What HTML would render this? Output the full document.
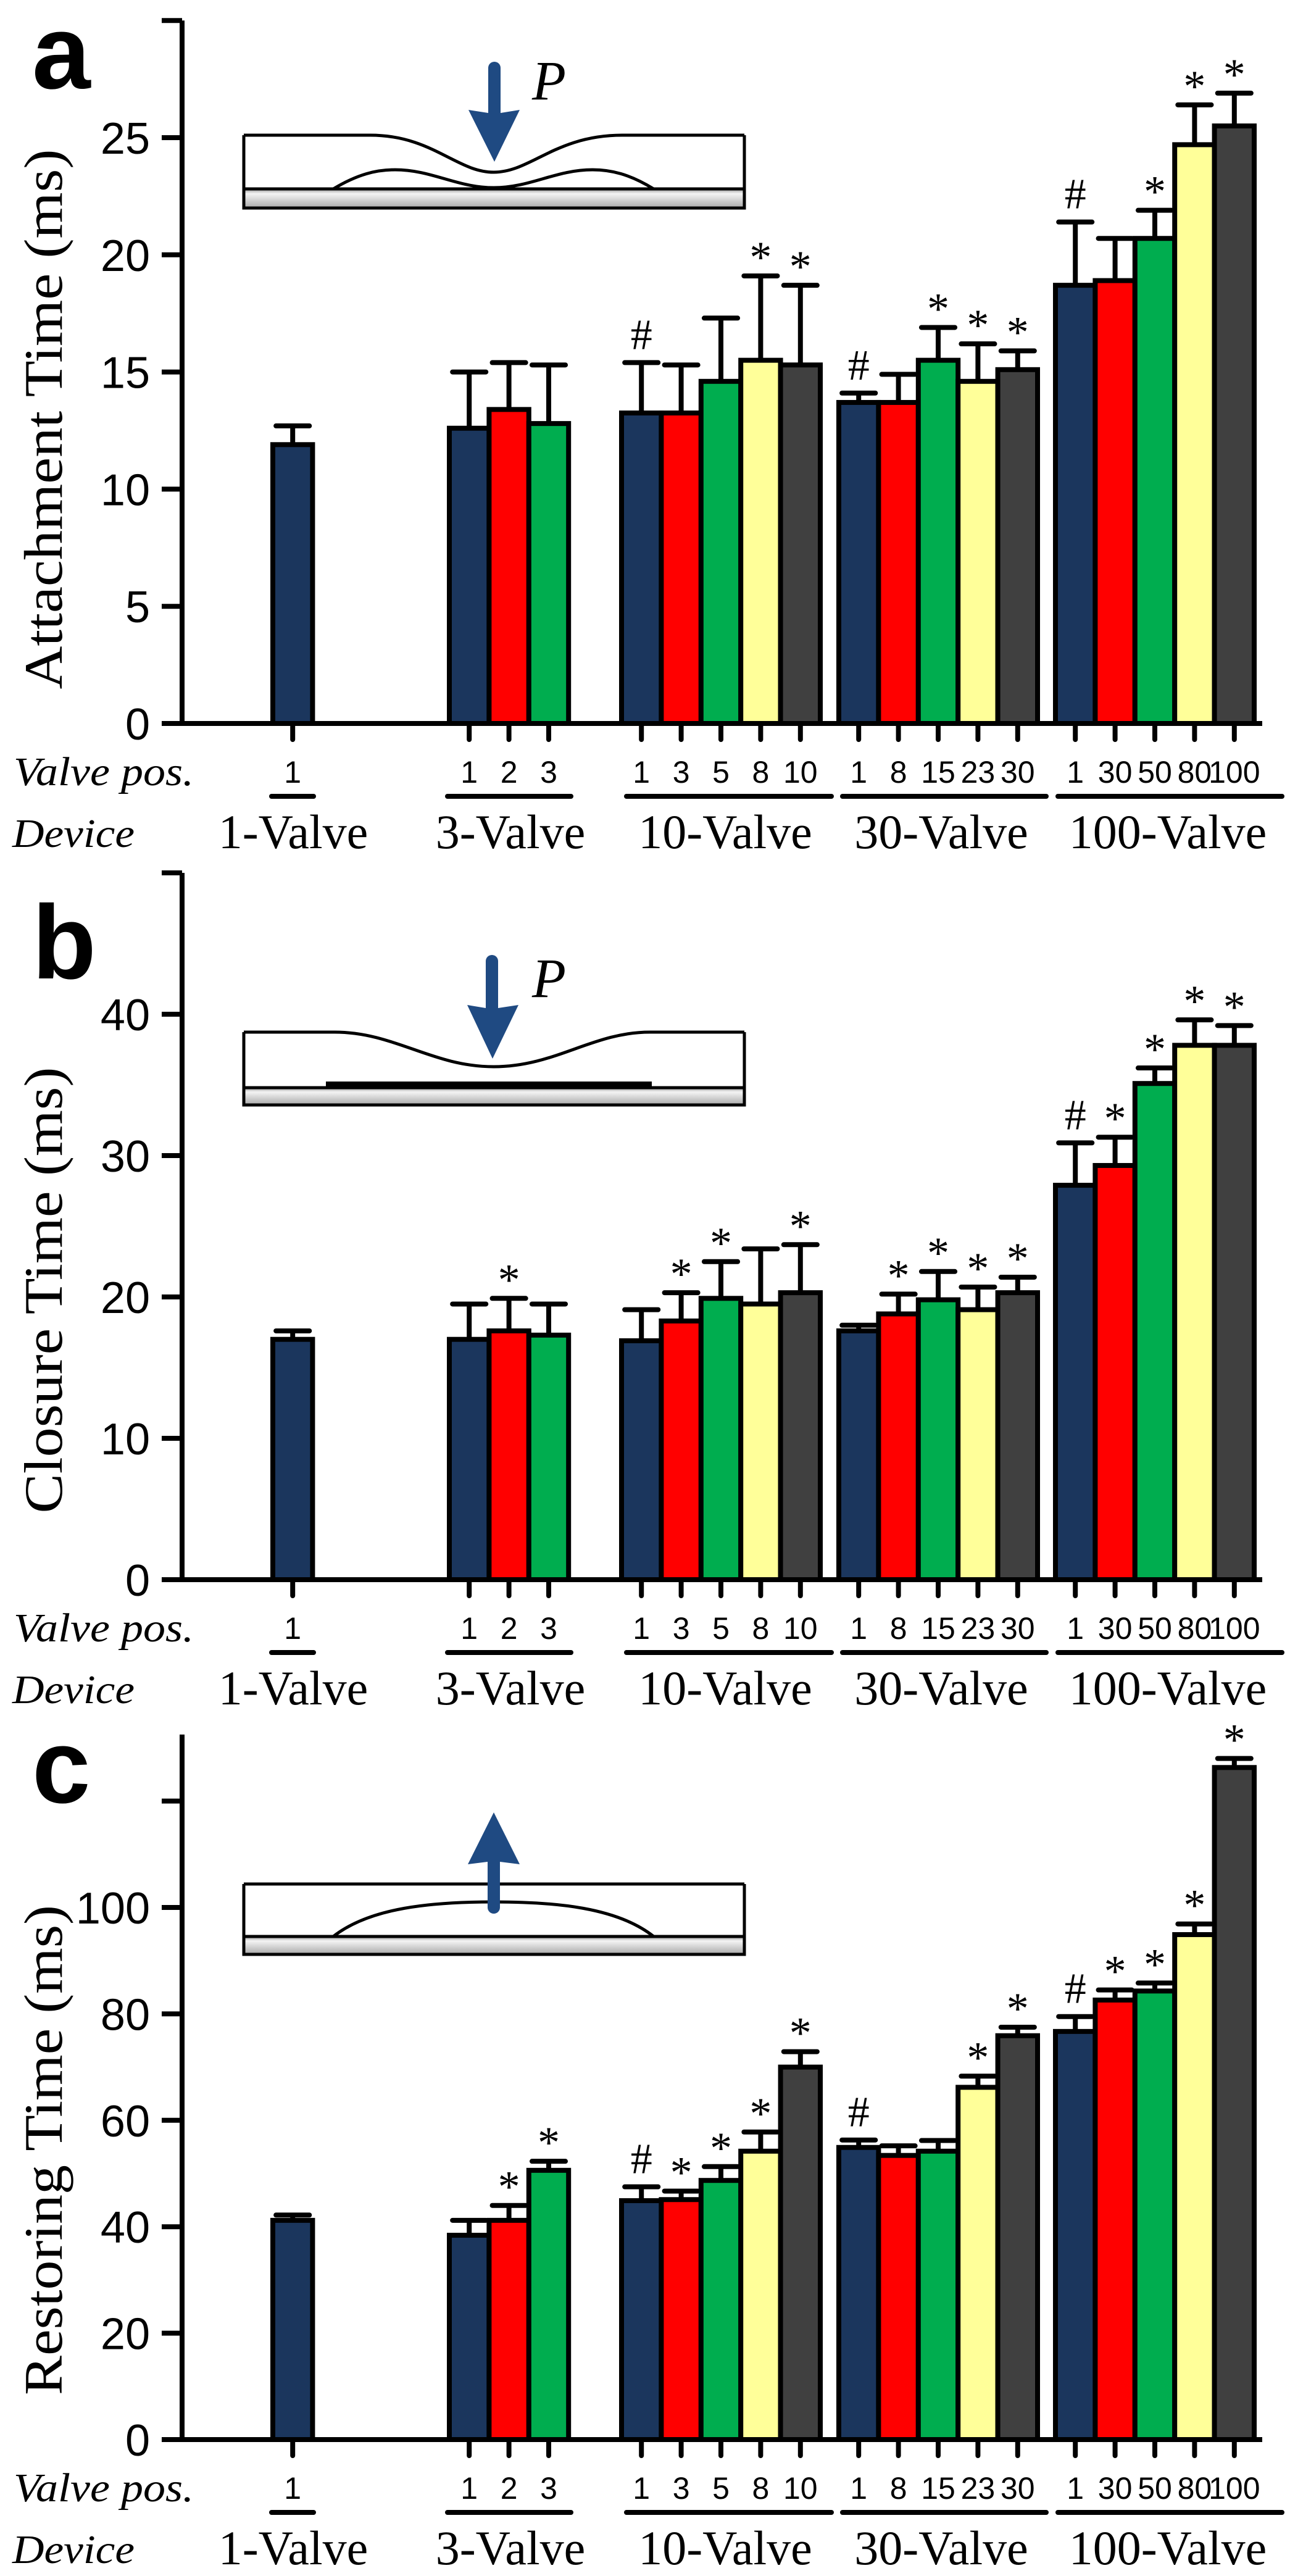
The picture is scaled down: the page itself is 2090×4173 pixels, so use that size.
<!DOCTYPE html>
<html><head><meta charset="utf-8"><style>
html,body{margin:0;padding:0;background:#fff;}
svg{display:block;}
</style></head>
<body>
<svg id="fig" xmlns="http://www.w3.org/2000/svg" width="2090" height="4173" viewBox="0 0 2090 4173">
<defs>
<linearGradient id="glass" x1="0" y1="0" x2="0" y2="1">
<stop offset="0" stop-color="#9a9a9a"/><stop offset="0.25" stop-color="#f4f4f4"/><stop offset="1" stop-color="#a8a8a8"/>
</linearGradient>
</defs>
<rect x="0" y="0" width="2090" height="4173" fill="#fff"/>
<g id="root"></g>
</svg>
<script>
// ---- data ----
const groups = ['1-Valve','3-Valve','10-Valve','30-Valve','100-Valve'];
const positions = [['1'],['1','2','3'],['1','3','5','8','10'],['1','8','15','23','30'],['1','30','50','80','100']];

const attachMean = [[11.9],[12.6,13.4,12.8],[13.25,13.25,14.6,15.5,15.3],[13.7,13.7,15.5,14.6,15.1],[18.7,18.9,20.7,24.7,25.5]];
const attachErr  = [[12.7],[15.0,15.4,15.3],[15.4,15.3,17.3,19.1,18.7],[14.1,14.9,16.9,16.2,15.9],[21.4,20.7,21.9,26.4,26.9]];
const attachMarks = [[''],['','',''],['#','','','*','*'],['#','','*','*','*'],['#','','*','*','*']];

const closureMean = [[17.0],[17.0,17.6,17.3],[16.9,18.3,19.9,19.5,20.3],[17.6,18.8,19.8,19.1,20.3],[27.9,29.3,35.1,37.8,37.8]];
const closureErr  = [[17.6],[19.5,19.9,19.5],[19.1,20.3,22.5,23.4,23.7],[18.0,20.2,21.8,20.7,21.4],[30.9,31.3,36.2,39.6,39.2]];
const closureMarks = [[''],['','*',''],['','*','*','','*'],['','*','*','*','*'],['#','*','*','*','*']];

const restoreMean = [[41.2],[38.4,41.2,50.6],[44.9,45.1,48.7,54.2,70.0],[54.9,53.4,54.2,66.2,75.9],[76.7,82.6,84.3,94.9,126.3]];
const restoreErr  = [[42.2],[41.2,44.0,52.3],[47.5,46.7,51.3,57.8,72.9],[56.3,55.2,56.2,68.3,77.5],[79.5,84.5,85.8,96.9,128.0]];
const restoreMarks = [[''],['','*','*'],['#','*','*','*','*'],['#','','','*','*'],['#','*','*','*','*']];

const ticksA = [0,5,10,15,20,25,30];
const tickLabelsA = ['0','5','10','15','20','25',''];
const ticksB = [0,10,20,30,40,50];
const tickLabelsB = ['0','10','20','30','40',''];
const ticksC = [0,20,40,60,80,100,120];
const tickLabelsC = ['0','20','40','60','80','100',''];

const colors = ['#1b365d','#ff0000','#00ad4f','#ffff99','#404040'];
const NS = 'http://www.w3.org/2000/svg';
const root = document.getElementById('root');

function mk(tag, attrs, parent, text){
  const e = document.createElementNS(NS, tag);
  for (const k in attrs) e.setAttribute(k, attrs[k]);
  if (text !== undefined) e.textContent = text;
  (parent||root).appendChild(e);
  return e;
}

// layout (pixels)
const groupStart = [442, 728, 1007, 1359, 1710];
const pitch = 64.4;
const ulines = [[440,508],[725,925],[1015,1347],[1365,1695],[1714,2077]];
const deviceCx = [475, 827, 1175, 1525, 1892];
const axisX = 295, axisLeft = 262, axisRight = 2045;

function barX(g, i){ return groupStart[g] + i*pitch; }

function panel(cfg){
  const g = mk('g', {});
  
  
  const yS = v => cfg.y0 - v*cfg.ppu;

  for (let gi=0; gi<groups.length; gi++){
    for (let i=0; i<cfg.mean[gi].length; i++){
      const x = barX(gi,i);
      const yt = yS(cfg.mean[gi][i]);
      const ye = yS(cfg.err[gi][i]);
      const cx = x + pitch/2;
      const el = mk('line', {x1:cx, x2:cx, y1:yt, y2:ye, stroke:'#000','stroke-width':8}, g);
      
      
      const cap = mk('line', {x1:cx-pitch*0.42, x2:cx+pitch*0.42, y1:ye, y2:ye, stroke:'#000','stroke-width':8,'stroke-linecap':'round'}, g);
      
      
      const r = mk('rect', {x:x, y:yt, width:pitch, height:cfg.y0-yt, fill:colors[i], stroke:'#000','stroke-width':8}, g);
      
      
      const m = cfg.marks[gi][i];
      if (m === '*'){
        const t = mk('text', {x:cx, y:ye-6, 'text-anchor':'middle', 'font-family':'"Liberation Serif", serif', 'font-size':72}, g, '*');
        
        
      } else if (m === '#'){
        const t = mk('text', {x:cx, y:ye-22, 'text-anchor':'middle', 'font-family':'"Liberation Serif", serif', 'font-size':70}, g, '#');
        
        
      }
      const tk = mk('line', {x1:cx, x2:cx, y1:cfg.y0, y2:cfg.y0+26, stroke:'#000','stroke-width':8,'stroke-linecap':'round'}, g);
      
      
      const pl = mk('text', {x:cx, y:cfg.y0+96, 'text-anchor':'middle', 'font-family':'"Liberation Sans", sans-serif', 'font-size':50}, g, positions[gi][i]);
      
      
    }
    const ul = mk('line', {x1:ulines[gi][0], x2:ulines[gi][1], y1:cfg.y0+118, y2:cfg.y0+118, stroke:'#000','stroke-width':8,'stroke-linecap':'round'}, g);
    
    
    const dl = mk('text', {x:deviceCx[gi], y:cfg.y0+202, 'text-anchor':'middle', 'font-family':'"Liberation Serif", serif', 'font-size':78}, g, groups[gi]);
    
    
  }

  const ya = mk('line', {x1:axisX, x2:axisX, y1:yS(cfg.top), y2:cfg.y0+4, stroke:'#000','stroke-width':8}, g);
  
  
  const xa = mk('line', {x1:axisLeft, x2:axisRight, y1:cfg.y0, y2:cfg.y0, stroke:'#000','stroke-width':8}, g);
  
  
  for (let k=0; k<cfg.ticks.length; k++){
    const y = yS(cfg.ticks[k]);
    const t = mk('line', {x1:axisLeft, x2:axisX, y1:y, y2:y, stroke:'#000','stroke-width':8}, g);
    
    
    if (cfg.tickLabels[k]){
      const l = mk('text', {x:243, y:y+26, 'text-anchor':'end', 'font-family':'"Liberation Sans", sans-serif', 'font-size':72}, g, cfg.tickLabels[k]);
      
      
    }
  }
  const tt = mk('text', {x:0, y:0, transform:'translate(100,'+cfg.titleCy+') rotate(-90)', 'text-anchor':'middle', 'font-family':'"Liberation Serif", serif', 'font-size':88, textLength:cfg.titleLen, lengthAdjust:'spacingAndGlyphs'}, g, cfg.title);
  
  
  const pl = mk('text', {x:52, y:cfg.letterY, 'font-family':'"Liberation Sans", sans-serif', 'font-weight':'bold', 'font-size':170}, g, cfg.letter);
  
  
  const vp = mk('text', {x:22, y:cfg.y0+100, 'font-family':'"Liberation Serif", serif', 'font-style':'italic', 'font-size':66, textLength:292, lengthAdjust:'spacingAndGlyphs'}, g, 'Valve pos.');
  
  
  const dv = mk('text', {x:20, y:cfg.y0+200, 'font-family':'"Liberation Serif", serif', 'font-style':'italic', 'font-size':66, textLength:198, lengthAdjust:'spacingAndGlyphs'}, g, 'Device');
  
  
  return g;
}

panel({name:'panel-a-attachment', y0:1172, ppu:37.96, top:30, ticks:ticksA, tickLabels:tickLabelsA, mean:attachMean, err:attachErr, marks:attachMarks, title:'Attachment Time (ms)', titleCy:679, titleLen:875, letter:'a', letterY:143});
panel({name:'panel-b-closure', y0:2559, ppu:22.9, top:50, ticks:ticksB, tickLabels:tickLabelsB, mean:closureMean, err:closureErr, marks:closureMarks, title:'Closure Time (ms)', titleCy:2090, titleLen:723, letter:'b', letterY:1585});
panel({name:'panel-c-restoring', y0:3952, ppu:8.62, top:132.5, ticks:ticksC, tickLabels:tickLabelsC, mean:restoreMean, err:restoreErr, marks:restoreMarks, title:'Restoring Time (ms)', titleCy:3483, titleLen:794, letter:'c', letterY:2920});

function inset(name, top, bottom, glassTop, curves, arrow, pY){
  const g = mk('g', {});
  
  
  const gl = mk('rect', {x:395, y:glassTop, width:811, height:bottom-glassTop, fill:'url(#glass)', stroke:'#000','stroke-width':5}, g);
  
  
  const bx = mk('path', {d:'M395,'+glassTop+' L395,'+top+' M1206,'+top+' L1206,'+glassTop, fill:'none', stroke:'#000','stroke-width':5}, g);
  
  
  for (const c of curves){
    const p = mk('path', {d:c.d, fill:'none', stroke:'#000','stroke-width':c.w||5}, g);
    
    
  }
  const a = mk('path', {d:arrow, fill:'#1f4a82'}, g);
  
  
  if (pY){
    const t = mk('text', {x:862, y:pY, 'font-family':'"Liberation Serif", serif', 'font-style':'italic', 'font-size':90}, g, 'P');
    
    
  }
}
inset('inset-attachment', 219, 337, 306,
  [{n:'membrane-top', d:'M395,219 L600,219 C700,219 740,279 800,279 C860,279 900,219 1008,219 L1206,219'},
   {n:'valve-seat', d:'M540,306 C580,282 610,275 640,275 C700,275 740,304 800,304 C860,304 900,275 960,275 C990,275 1020,282 1059,306'}],
  'M791,110 a10,10 0 0 1 20,0 L811,183 L842,178 L801,262 L759,178 L791,183 Z', 161);
inset('inset-closure', 1672, 1790, 1762,
  [{n:'membrane-top', d:'M395,1672 L542,1672 C640,1672 700,1728 800,1728 C900,1728 960,1672 1053,1672 L1206,1672'},
   {n:'closed-membrane', d:'M528,1757 L1056,1757', w:10}],
  'M787,1557 a10,10 0 0 1 20,0 L807,1633 L840,1628 L798,1715 L757,1628 L787,1633 Z', 1615);
inset('inset-restoring', 3052, 3166, 3137,
  [{n:'membrane-top', d:'M395,3052 L1206,3052'},
   {n:'restored-dome', d:'M540,3137 C600,3090 700,3081 800,3081 C900,3081 1000,3090 1059,3137'}],
  'M790,3090 a10,10 0 0 0 20,0 L810,3016 L842,3020 L800,2936 L758,3020 L790,3016 Z', 0);
</script>
</body></html>
